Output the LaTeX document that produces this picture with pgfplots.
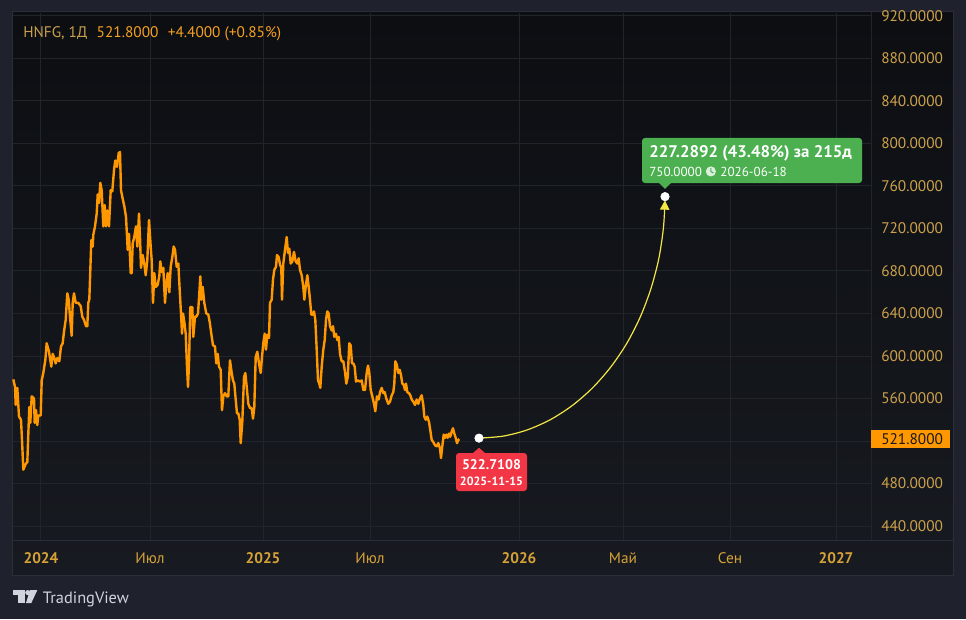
\documentclass[border=0pt]{standalone}
\usepackage{fontspec}
\setmainfont{PT Sans}
\usepackage{pgfplots}
\pgfplotsset{compat=1.18}
\usetikzlibrary{arrows.meta,calc}
\definecolor{outerbg}{HTML}{1F222D}
\definecolor{panetop}{HTML}{0C0E12}
\definecolor{panebot}{HTML}{171A20}
\definecolor{paneborder}{HTML}{2A2E39}
\definecolor{gridc}{HTML}{20242B}
\definecolor{ylab}{HTML}{CDA24C}
\definecolor{xlab}{HTML}{D6A238}
\definecolor{hdrA}{HTML}{C9A04E}
\definecolor{hdrB}{HTML}{F5A020}
\definecolor{linec}{HTML}{FF9800}
\definecolor{curvec}{HTML}{F2E544}
\definecolor{redc}{HTML}{F23645}
\definecolor{greenc}{HTML}{4CAF50}
\definecolor{tvtext}{HTML}{D1D4DC}
\definecolor{lastc}{HTML}{FF9800}
\begin{document}
\begin{tikzpicture}
% 1 px = 0.75 pt ; picture 966 x 619 px
\fill[outerbg] (0,0) rectangle (724.5pt,464.25pt);
\shade[top color=panetop,bottom color=panebot] (9pt,33pt) rectangle (714.75pt,455.25pt);
\draw[paneborder,line width=0.75pt] (9pt,33pt) rectangle (714.75pt,455.25pt);
\draw[paneborder,line width=0.75pt] (9pt,59.25pt) -- (714.75pt,59.25pt);
\draw[gridc,line width=0.75pt] (653.25pt,59.25pt) -- (653.25pt,455.25pt);
\begin{axis}[
  at={(9.75pt,59.25pt)}, anchor=south west,
  scale only axis, width=643.5pt, height=395.25pt,
  xmin=13, xmax=871, ymin=426.82, ymax=922.82,
  axis line style={draw=none},
  tick style={draw=none},
  grid=major, major grid style={color=gridc,line width=0.75pt},
  xtick={41,150,263,370,519,623,730,836},
  xticklabels={\textbf{2024},Июл,\textbf{2025},Июл,\textbf{2026},Май,Сен,\textbf{2027}},
  xticklabel style={anchor=base,inner sep=0pt,yshift=-17.25pt,font=\fontsize{11.5}{13}\selectfont,text=xlab},
  ytick={440,480,520,560,600,640,680,720,760,800,840,880,920},
  yticklabels={440.0000,480.0000,,560.0000,600.0000,640.0000,680.0000,720.0000,760.0000,800.0000,840.0000,880.0000,920.0000},
  yticklabel pos=right,
  yticklabel style={anchor=west,inner sep=0pt,xshift=7.5pt,font=\fontsize{11.5}{13}\selectfont,text=ylab},
  clip=false,
]
\addplot[linec,line width=1.8pt,line join=round] coordinates {
(13.3,578) (15,571) (15.7,554) (17.3,570) (19,543) (21,540) (22.3,515) (23.3,493)
(26,499) (27.3,500) (29.3,552) (30.3,537) (31.7,562) (34,560) (34.7,537) (36,549)
(37.3,535) (38.3,544) (40.7,544) (41.7,577) (43.3,584) (44.3,590) (45.3,596) (46.7,612)
(49,604) (51.3,590) (52.7,602) (54.3,598) (55.7,593) (57.3,598) (59.3,595) (61,609)
(62.7,612) (64,623) (65.7,634) (67.3,659) (68.7,653) (70,637) (71.7,619) (72.7,650)
(74,659) (75.7,650) (78.3,650) (80.7,647) (82.3,637) (84,634) (86,628) (87.3,628)
(88.3,650) (89.3,653) (90,672) (91.3,709) (92.7,703) (93.3,714) (95,722) (96.7,734)
(97.7,752) (99,744) (100.3,763) (101.7,756) (103.3,722) (104.7,742) (106,722) (107.3,737)
(109,722) (110.7,756) (112.3,755) (114,775) (115.3,784) (117,778) (118.7,791) (120,792)
(121,756) (122.7,748) (124.3,741) (126,731) (127.7,700) (129,715) (130.7,678) (131.7,678)
(132.7,706) (134.3,712) (136,722) (137.3,703) (139,734) (140,712) (141,683) (142.7,695)
(144.3,687) (145.7,676) (147.3,690) (149,728) (150.7,703) (151.7,690) (153,650) (154.3,678)
(155.7,665) (157.7,667) (159.3,675) (160.3,689) (161.7,679) (163.3,683) (165,650) (166.3,668)
(167.7,678) (169.3,660) (170.7,684) (172.3,693) (173.7,703) (175,700) (176.7,684) (178.3,687)
(179.7,662) (181,640) (182,621) (183,640) (184.3,632) (185.7,621) (187,590) (188,571)
(189,593) (190.3,646) (192.3,646) (193.3,618) (195,637) (196.3,637) (198,640) (199.3,659)
(200.3,675) (201.3,653) (202.7,665) (204.3,650) (206.3,640) (208.3,639) (209.7,632) (211.3,621)
(213,610) (215,609) (216.3,593) (217.7,602) (219,590) (220.7,587) (222,549) (223.3,562)
(225,565) (226.7,562) (228.3,562) (230,596) (231.7,584) (233,577) (234.3,574) (235.7,559)
(237,546) (238.3,546) (239.7,540) (240.7,518) (242.3,538) (244,580) (245.3,584) (246.7,571)
(248.3,555) (250,551) (251.7,551) (253,541) (254.3,552) (255.7,599) (257.3,604) (259,593)
(260.7,584) (262,599) (263.3,612) (264.7,621) (266,606) (267.3,620) (269,617) (270,650)
(271.7,653) (273,672) (274.3,681) (276,684) (277,695) (278.7,693) (280,686) (281.3,683)
(282,653) (283.3,687) (285,700) (286.7,712) (288,697) (289.3,701) (290.7,687) (292.3,689)
(294,698) (295.7,689) (297.3,687) (298.7,692) (300,681) (301.7,676) (303.3,665) (304.3,653)
(305.7,665) (307.3,676) (308.7,665) (310,653) (311.3,639) (312.7,639) (314,642) (315.3,634)
(316.7,606) (318,577) (319.3,574) (320.3,570) (321.7,590) (323.3,606) (324.7,615) (326,634)
(327.3,642) (328.7,640) (330,628) (331.7,624) (333,628) (334.3,618) (336,621) (337.3,615)
(338.7,618) (340,602) (341.7,595) (343.3,595) (345,585) (346.3,574) (347.7,580) (349.3,612)
(350.7,610) (352,593) (353.3,593) (354.7,590) (356,576) (357.7,577) (360,576) (361.7,577)
(363.3,568) (365,568) (366.7,584) (368,591) (369.3,584) (370.7,568) (372.3,562) (374,555)
(375.3,548) (377,562) (378.7,559) (380,566) (381.7,570) (383.3,565) (384.7,566) (386.3,560)
(388.3,555) (390,557) (391.7,563) (393.3,566) (394.3,574) (395.3,595) (396.7,592) (398.3,584)
(399.7,587) (401,582) (402.3,574) (403.7,573) (405,568) (406,574) (407.3,566) (409,565)
(410.3,563) (411.7,559) (413.3,557) (415,554) (416.7,559) (418.3,555) (420,560) (421.7,563)
(423.3,554) (424.3,543) (425.7,540) (427.3,543) (429,538) (430.3,530) (431.7,521) (433.3,519)
(435,516) (436.7,515) (438.3,518) (440,513) (441,504) (442.3,515) (443.7,526) (445,523)
(446.3,526) (447.7,523) (449,527) (450.3,524) (451.7,529) (453,532) (454.3,527) (455.7,523)
(457,518) (458.3,521) (459.3,521.8)
};
% projection curve (quarter ellipse)
\addplot[curvec,line width=0.9pt,smooth,-{Triangle[width=7pt,length=7pt]}] coordinates {
(479,522.71) (503.3,524.6) (527.1,530.4) (550.2,540.0) (572,553.2) (592.2,569.7) (610.5,589.3)
(626.6,611.6) (640.1,636.4) (650.8,663.0) (658.7,691.2) (663.4,720.3) (665,746.5)
};
% start and target points
\addplot[only marks,mark=*,mark size=3.2pt,white,mark options={draw=white,fill=white}] coordinates {(479,522.71) (665,750)};
% red label
\fill[redc] (axis cs:473,508.7) -- (axis cs:479,513.6) -- (axis cs:485,508.7) -- cycle;
\fill[redc,rounded corners=2.25pt] (axis cs:456,508.7) rectangle (axis cs:527,472.9);
\node[text=white,inner sep=0pt,font=\fontsize{10.5}{12}\selectfont\bfseries] at (axis cs:491.5,498.2) {522.7108};
\node[text=white,inner sep=0pt,font=\fontsize{9}{11}\selectfont\bfseries] at (axis cs:491.5,482.2) {2025-11-15};
% green label box
\fill[greenc] (axis cs:659,762.8) -- (axis cs:665,757.4) -- (axis cs:671,762.8) -- cycle;
\fill[greenc,rounded corners=2.25pt] (axis cs:642,805.2) rectangle (axis cs:862,762.8);
\end{axis}
% green label text (px -> pt)
\node[text=white,inner sep=0pt,anchor=base west,font=\fontsize{12.6}{14}\selectfont\bfseries] at (486.75pt,346.5pt) {227.2892 (43.48\%) за 215д};
\node[text=white,inner sep=0pt,anchor=base west,font=\fontsize{9.8}{11}\selectfont] (v) at (486.75pt,332.25pt) {750.0000};
\coordinate (ck) at ($(v.east)+(6.5pt,0pt)$);
\fill[white!80!greenc] (ck) circle[radius=3.8pt];
\draw[greenc,line width=0.8pt] (ck) -- ++(0pt,2.5pt) (ck) -- ++(1.9pt,-1.2pt);
\node[text=white,inner sep=0pt,anchor=west,font=\fontsize{9.8}{11}\selectfont] at ($(v.east)+(13.5pt,0pt)$) {2026-06-18};
% last price label on the price scale
\fill[lastc] (653.25pt,128.25pt) rectangle (712.5pt,141.75pt);
\node[anchor=west,inner sep=0pt,text=black!90,font=\fontsize{11.5}{13}\selectfont] at (660.75pt,135pt) {521.8000};
% header
\node[anchor=base west,inner sep=0pt,font=\fontsize{11.5}{13}\selectfont] at (17.25pt,436.3pt)
  {\textcolor{hdrA}{HNFG, 1Д}\hspace{7pt}\textcolor{hdrB}{521.8000\hspace{7pt}+4.4000 (+0.85\%)}};
% TradingView logo
\fill[tvtext] (9.5pt,18pt) rectangle (18.75pt,21.75pt);
\fill[tvtext] (13.5pt,12pt) rectangle (18.75pt,18pt);
\fill[tvtext] (20.8pt,19.8pt) circle[radius=1.9pt];
\fill[tvtext] (22.5pt,21.75pt) -- (28pt,21.75pt) -- (23.5pt,12pt) -- (19.5pt,12pt) -- cycle;
\node[anchor=base west,inner sep=0pt,text=tvtext,font=\fontsize{12.3}{14}\selectfont] at (32pt,12pt) {TradingView};
\end{tikzpicture}
\end{document}
